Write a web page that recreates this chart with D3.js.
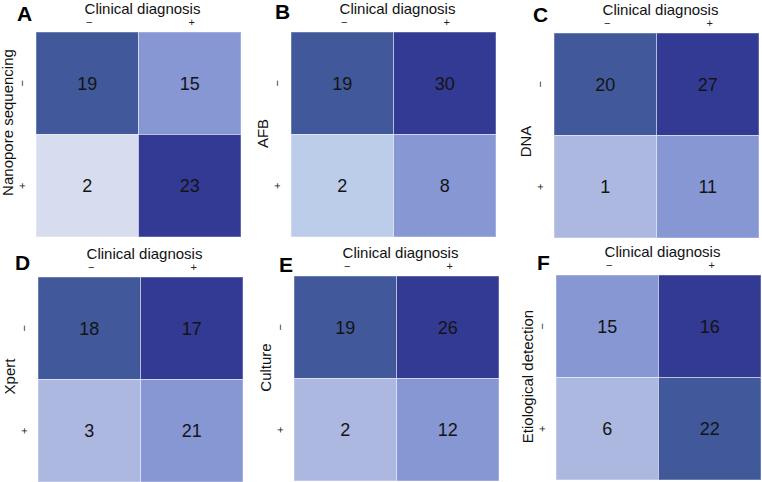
<!DOCTYPE html>
<html>
<head>
<meta charset="utf-8">
<script src="https://cdn.jsdelivr.net/npm/d3@7"></script>
<style>
  body { margin: 0; background: #fff; }
  svg { display: block; font-family: "Liberation Sans", Arial, sans-serif; }
</style>
</head>
<body>
<div id="chart"></div>
<script>
const panelLetters = ["A", "B", "C", "D", "E", "F"];
const rowTitles = ["Nanopore sequencing", "AFB", "DNA", "Xpert", "Culture", "Etiological detection"];
const colTitle = "Clinical diagnosis";
const levels = ["\u2212", "+"];
// cells in order: (row -, col -), (row -, col +), (row +, col -), (row +, col +)
const counts = [
    [19, 15, 2, 23],
    [19, 30, 2, 8],
    [20, 27, 1, 11],
    [18, 17, 3, 21],
    [19, 26, 2, 12],
    [15, 16, 6, 22]
];
// shade level of each cell as printed
const tones = [
    [1, 2, 4, 0],
    [1, 0, 5, 2],
    [1, 0, 3, 2],
    [1, 0, 3, 2],
    [1, 0, 3, 2],
    [2, 0, 3, 1]
];

const color = d3.scaleOrdinal()
    .domain([0, 1, 2, 3, 4, 5])
    .range(["#333a93", "#41599b", "#8797d3", "#adb8e0", "#d8dcef", "#bccde9"]);

// grid placement of each panel (left, top), letter offsets, y-title nudge
const layout = [
    { x: 36, y: 32, lx: -19, ly: -11, ty: -12 },
    { x: 291, y: 32, lx: -16, ly: -13, ty: -1 },
    { x: 554, y: 33, lx: -21, ly: -11, ty: 6 },
    { x: 38, y: 277, lx: -23, ly: -7, ty: -3 },
    { x: 294, y: 276, lx: -15, ly: -4, ty: -11 },
    { x: 556, y: 275, lx: -19, ly: -5, ty: -1 }
];
const size = 205;

const svg = d3.select("#chart")
    .append("svg")
    .attr("width", 762)
    .attr("height", 482);

panelLetters.forEach((letter, i) => {
    const pos = layout[i];
    const g = svg.append("g").attr("transform", `translate(${pos.x},${pos.y})`);

    const x = d3.scaleBand().domain(levels).range([0, size]);
    const y = d3.scaleBand().domain(levels).range([0, size]);

    const cells = counts[i].map((v, k) => ({
        row: levels[Math.floor(k / 2)],
        col: levels[k % 2],
        value: v,
        tone: tones[i][k]
    }));

    g.selectAll("rect")
        .data(cells)
        .join("rect")
        .attr("x", (d) => x(d.col))
        .attr("y", (d) => y(d.row))
        .attr("width", x.bandwidth())
        .attr("height", y.bandwidth())
        .attr("fill", (d) => color(d.tone))
        .attr("stroke", "rgba(255,255,255,0.45)")
        .attr("stroke-width", 1);

    g.selectAll("text.val")
        .data(cells)
        .join("text")
        .attr("class", "val")
        .attr("x", (d) => x(d.col) + x.bandwidth() / 2)
        .attr("y", (d) => y(d.row) + y.bandwidth() / 2)
        .attr("dy", "0.36em")
        .attr("text-anchor", "middle")
        .style("font-size", "18px")
        .style("fill", "#141414")
        .text((d) => d.value);

    // column header
    g.append("text")
        .attr("x", size / 2 + 4)
        .attr("y", -18.5)
        .attr("text-anchor", "middle")
        .style("font-size", "15px")
        .style("fill", "#111")
        .text(colTitle);

    g.selectAll("text.ctick")
        .data(levels)
        .join("text")
        .attr("class", "ctick")
        .attr("x", (d) => x(d) + x.bandwidth() / 2 + 2)
        .attr("y", -6.5)
        .attr("text-anchor", "middle")
        .style("font-size", "11px")
        .style("fill", "#222")
        .text((d) => d);

    // row ticks, rotated
    g.selectAll("text.rtick")
        .data(levels)
        .join("text")
        .attr("class", "rtick")
        .attr("transform", (d) => `translate(-10,${y(d) + y.bandwidth() / 2}) rotate(-90)`)
        .attr("text-anchor", "middle")
        .style("font-size", "11px")
        .style("fill", "#222")
        .text((d) => d);

    // row title
    g.append("text")
        .attr("transform", `translate(-23,${size / 2 + pos.ty}) rotate(-90)`)
        .attr("text-anchor", "middle")
        .style("font-size", "15px")
        .style("fill", "#111")
        .text(rowTitles[i]);

    // panel letter
    g.append("text")
        .attr("x", pos.lx)
        .attr("y", pos.ly)
        .attr("text-anchor", "start")
        .style("font-size", "21px")
        .style("font-weight", "bold")
        .style("fill", "#000")
        .text(letter);
});
</script>
</body>
</html>
